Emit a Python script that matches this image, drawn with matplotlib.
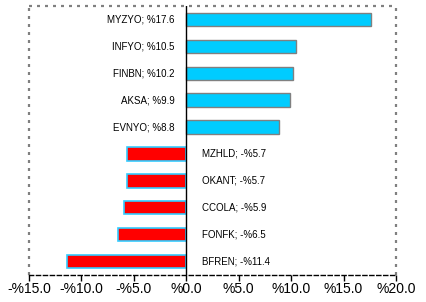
import matplotlib
matplotlib.use("Agg")
import matplotlib.pyplot as plt
import numpy as np

plt.rcParams['font.family'] = ['Liberation Sans', 'DejaVu Sans']

names = ["MYZYO", "INFYO", "FINBN", "AKSA", "EVNYO", "MZHLD", "OKANT", "CCOLA", "FONFK", "BFREN"]
values = [17.6, 10.5, 10.2, 9.9, 8.8, -5.7, -5.7, -5.9, -6.5, -11.4]
ticks = [-15, -10, -5, 0, 5, 10, 15, 20]
tick_labels = ["-%15.0", "-%10.0", "-%5.0", "%0.0", "%5.0", "%10.0", "%15.0", "%20.0"]

fig = plt.figure(figsize=(4.27, 3.02), dpi=100)
ax = fig.add_axes([29/427, 1 - 275/302, (396-29)/427, (275-6)/302])

y = np.arange(len(names))[::-1]
for yi, v, n in zip(y, values, names):
    if v >= 0:
        ax.barh(yi, v, height=0.5, color="#00CCFF", edgecolor="#808080", linewidth=1.0, zorder=2)
        lbl = f"{n}; %{abs(v):.1f}"
        ax.annotate(lbl, xy=(0, yi), xytext=(-12, 0), textcoords="offset pixels",
                    ha="right", va="center", fontsize=7, color="#000000")
    else:
        ax.barh(yi, v, height=0.5, color="#FF0000", edgecolor="#33CCFF", linewidth=1.2, zorder=2)
        lbl = f"{n}; -%{abs(v):.1f}"
        ax.annotate(lbl, xy=(0, yi), xytext=(16, 0), textcoords="offset pixels",
                    ha="left", va="center", fontsize=7, color="#000000")

ax.set_xlim(-15, 20)
ax.set_ylim(-0.5, len(names) - 0.5)
ax.axvline(0, color="black", linewidth=1.0, zorder=3)

ax.set_xticks(ticks)
ax.set_xticklabels(tick_labels, fontsize=10)
ax.set_yticks([])
ax.tick_params(axis='x', direction='out', length=4, width=1, color='black', pad=1)

for side in ['left', 'top', 'right']:
    ax.spines[side].set_color('#808080')
    ax.spines[side].set_linestyle((0, (1.35, 2.25)))
    ax.spines[side].set_linewidth(1.6)
    ax.spines[side].set_capstyle('butt')
ax.spines['bottom'].set_color('black')
ax.spines['bottom'].set_linestyle((0, (3, 2)))
ax.spines['bottom'].set_linewidth(1.0)

fig.savefig("out.png", dpi=100)
